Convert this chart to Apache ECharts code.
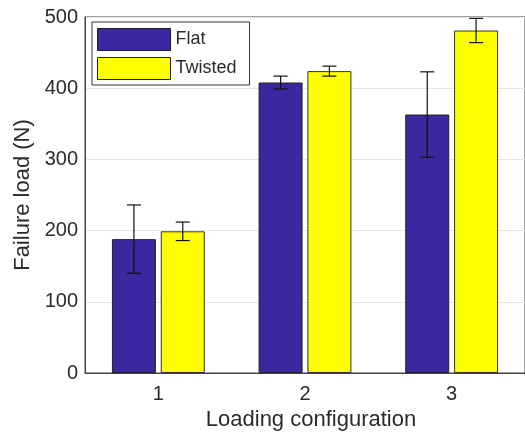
<!DOCTYPE html>
<html><head><meta charset="utf-8">
<script src="https://cdn.jsdelivr.net/npm/echarts@6/dist/echarts.min.js"></script>
<style>html,body{margin:0;padding:0;background:#fff}#c{width:525px;height:440px}</style>
</head><body><div id="c"></div>
<script>
const categories = ['1', '2', '3'];
const flatMean = [188, 408, 363];
const flatErr = [48, 9, 60];
const twistedMean = [199, 424, 481];
const twistedErr = [13, 7, 17];
const yTicks = [0, 100, 200, 300, 400, 500];

const FONT = 'Liberation Sans, Arial, sans-serif';
const TXT = '#2b2b2b';
const BAR_W = 0.30, BAR_GAP = 0.11;

function errSeries(means, errs, side) {
  return {
    type: 'custom',
    silent: true,
    z: 10,
    data: means.map((m, i) => [i, m, errs[i]]),
    renderItem: function (params, api) {
      const idx = api.value(0), m = api.value(1), e = api.value(2);
      const bandW = api.size([1, 0])[0];
      const barW = bandW * BAR_W;
      const off = side * (barW + barW * BAR_GAP) / 2;
      const c = api.coord([idx, m]);
      const x = c[0] + off;
      const yTop = api.coord([idx, m + e])[1];
      const yBot = api.coord([idx, m - e])[1];
      const cap = 7;
      const st = { stroke: '#111', lineWidth: 1.2 };
      return {
        type: 'group',
        children: [
          { type: 'line', shape: { x1: x, y1: yTop, x2: x, y2: yBot }, style: st },
          { type: 'line', shape: { x1: x - cap, y1: yTop, x2: x + cap, y2: yTop }, style: st },
          { type: 'line', shape: { x1: x - cap, y1: yBot, x2: x + cap, y2: yBot }, style: st }
        ]
      };
    }
  };
}

const chart = echarts.init(document.getElementById('c'), null, { renderer: 'canvas' });
chart.setOption({
  animation: false,
  textStyle: { fontFamily: FONT },
  grid: { left: 85, top: 17, width: 444, height: 356, show: true, borderColor: '#444', borderWidth: 1, backgroundColor: '#fff' },
  legend: {
    left: 92, top: 22, orient: 'vertical',
    data: ['Flat', 'Twisted'],
    itemWidth: 73, itemHeight: 22, itemGap: 6,
    padding: [6, 13, 5, 5],
    borderColor: '#333', borderWidth: 1, backgroundColor: '#fff',
    icon: 'rect',
    textStyle: { fontSize: 18, color: TXT, fontFamily: FONT },
    itemStyle: { borderColor: '#222', borderWidth: 1 }
  },
  xAxis: {
    type: 'category', data: categories,
    axisLine: { lineStyle: { color: '#444' } },
    axisTick: { show: false },
    axisLabel: { color: TXT, fontSize: 20, margin: 11, fontFamily: FONT },
    name: 'Loading configuration', nameLocation: 'middle', nameGap: 30,
    nameTextStyle: { color: TXT, fontSize: 22, fontFamily: FONT, padding: [0, 0, 0, 12] }
  },
  yAxis: {
    type: 'value', min: yTicks[0], max: yTicks[yTicks.length - 1], interval: 100,
    axisLine: { show: true, lineStyle: { color: '#444' } },
    axisTick: { show: false },
    axisLabel: { color: TXT, fontSize: 20, margin: 7, fontFamily: FONT },
    splitLine: { lineStyle: { color: '#e6e6e6' } },
    name: 'Failure load (N)', nameLocation: 'middle', nameGap: 48,
    nameTextStyle: { color: TXT, fontSize: 22, fontFamily: FONT }
  },
  series: [
    { name: 'Flat', type: 'bar', data: flatMean, barWidth: (BAR_W * 100) + '%', barGap: (BAR_GAP * 100) + '%',
      itemStyle: { color: '#3a28a0', borderColor: '#222', borderWidth: 1 } },
    { name: 'Twisted', type: 'bar', data: twistedMean, barWidth: (BAR_W * 100) + '%',
      itemStyle: { color: '#ffff00', borderColor: '#333', borderWidth: 1 } },
    errSeries(flatMean, flatErr, -1),
    errSeries(twistedMean, twistedErr, 1)
  ]
});
</script></body></html>
